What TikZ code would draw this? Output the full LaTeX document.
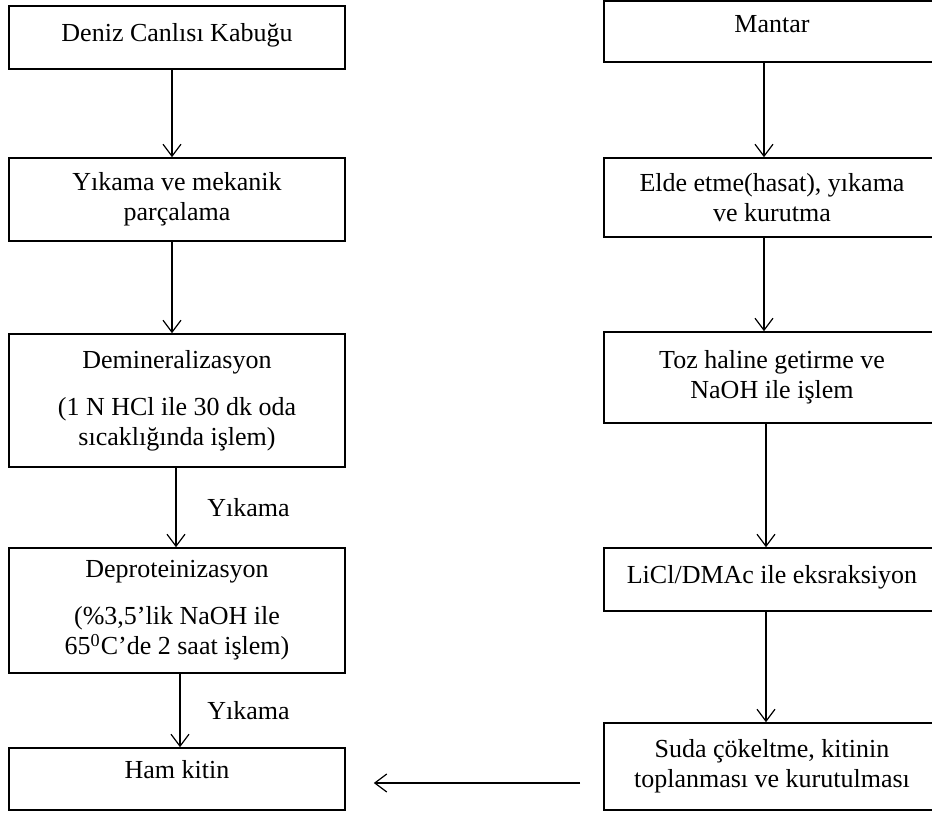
\documentclass[tikz,border=0pt]{standalone}
\usepackage{fontspec}
\setmainfont{Liberation Serif}
\usetikzlibrary{arrows.meta, positioning, calc}

\begin{document}
\begin{tikzpicture}[x=0.5pt, y=-0.5pt,
  box/.style={draw, line width=0.8pt, minimum width=168pt, align=center, inner sep=0pt, font=\fontsize{13}{15}\selectfont},
  arr/.style={-{Straight Barb[length=6pt,width=9pt]}, line width=0.6pt},
  lbl/.style={font=\fontsize{13}{15}\selectfont}]
\useasboundingbox (0,0) rectangle (932,814);
\clip (0,0) rectangle (932,814);
%
\node (deniz)  [box, minimum height=31.5pt, text depth=5pt] at (177,37.5)  {Deniz Canlısı Kabuğu};
\node (yikama) [box, minimum height=41.5pt] at (177,199.5) {Yıkama ve mekanik\\parçalama};
\node (demin)  [box, minimum height=66.5pt] at (177,400.5) {Demineralizasyon\\[8.5pt](1 N HCl ile 30 dk oda\\sıcaklığında işlem)};
\node (deprot) [box, minimum height=62.5pt] at (177,610.5) {Deproteinizasyon\\[8.5pt](\%3,5’lik NaOH ile\\65\textsuperscript{0}C’de 2 saat işlem)};
\node (ham)    [box, minimum height=31pt, text depth=10pt] at (177,779) {Ham kitin};
%
\node (mantar) [box, minimum height=30.5pt, text depth=8pt] at (772,31.5) {Mantar};
\node (hasat)  [box, minimum height=39.5pt] at (772,197.5) {Elde etme(hasat), yıkama\\ve kurutma};
\node (toz)    [box, minimum height=45.5pt] at (772,377.5) {Toz haline getirme ve\\NaOH ile işlem};
\node (licl)   [box, minimum height=31.5pt, text depth=5pt] at (772,579.5) {LiCl/DMAc ile eksraksiyon};
\node (suda)   [box, minimum height=43.5pt] at (772,766.5) {Suda çökeltme, kitinin\\toplanması ve kurutulması};
%
\draw[arr] ([xshift=-2.5pt]deniz.south)  -- ([xshift=-2.5pt]yikama.north);
\draw[arr] ([xshift=-2.5pt]yikama.south) -- ([xshift=-2.5pt]demin.north);
\draw[arr] ([xshift=-0.5pt]demin.south)  -- node[lbl, right=12pt] (yik1) {Yıkama} ([xshift=-0.5pt]deprot.north);
\draw[arr] ([xshift=1.5pt]deprot.south)  -- node[lbl, right=10pt] (yik2) {Yıkama} ([xshift=1.5pt]ham.north);
%
\draw[arr] ([xshift=-4pt]mantar.south) -- ([xshift=-4pt]hasat.north);
\draw[arr] ([xshift=-4pt]hasat.south)  -- ([xshift=-4pt]toz.north);
\draw[arr] ([xshift=-3pt]toz.south)    -- ([xshift=-3pt]licl.north);
\draw[arr] ([xshift=-3pt]licl.south)   -- ([xshift=-3pt]suda.north);
%
\draw[arr] ($(suda.west |- ham.east)+(-11.5pt,-2pt)$) -- ($(ham.east)+(14pt,-2pt)$);
\end{tikzpicture}
\end{document}
